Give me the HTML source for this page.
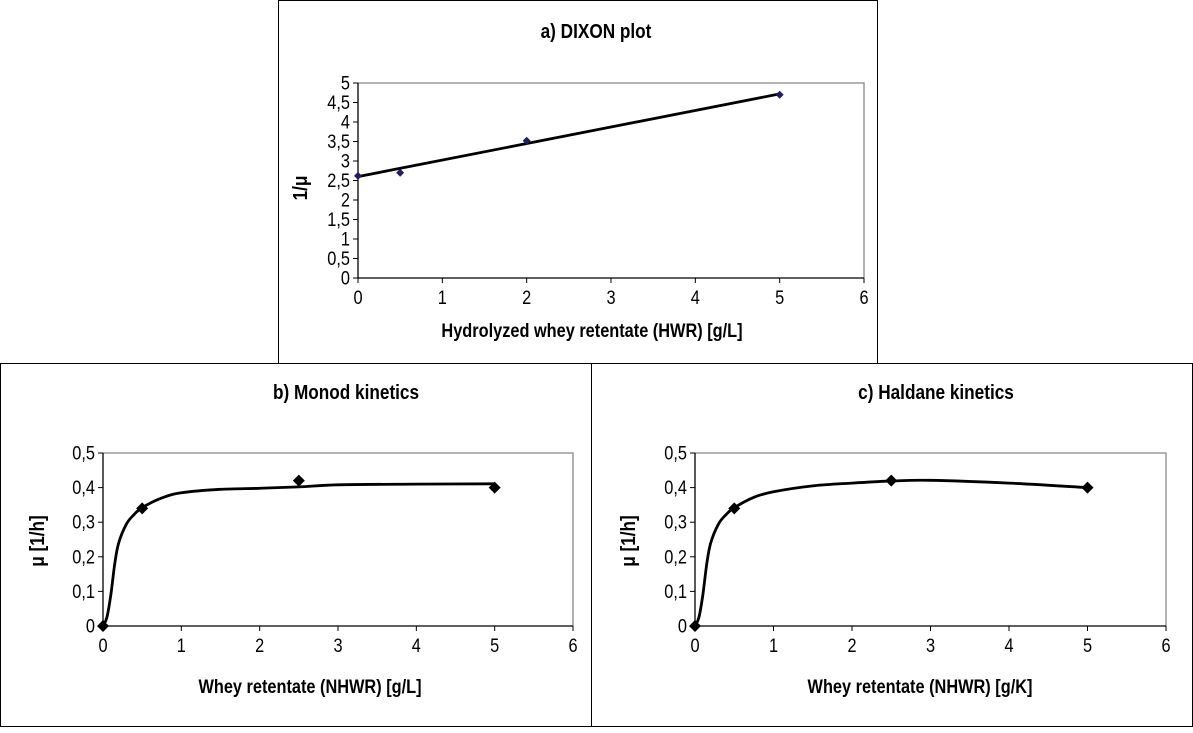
<!DOCTYPE html>
<html><head><meta charset="utf-8"><style>
body{margin:0;background:#fff;width:1193px;height:728px;overflow:hidden;font-family:"Liberation Sans",Arial,sans-serif}
svg text{font-family:"Liberation Sans",Arial,sans-serif}
</style></head><body>
<svg id="fig" width="1193" height="728" xmlns="http://www.w3.org/2000/svg">
<rect x="278.5" y="0.5" width="599" height="363" fill="#fff" stroke="#000"/>
<rect x="0.5" y="363.5" width="591" height="363" fill="#fff" stroke="#000"/>
<rect x="591.5" y="363.5" width="601" height="363" fill="#fff" stroke="#000"/>
</svg>
<script>
// Panel a data
const aX=[0,0.5,2,5];
const aY=[2.62,2.7,3.52,4.7];
const aFitX=[0,5];
const aFitY=[2.6,4.72];
const aYTicks=[0,0.5,1,1.5,2,2.5,3,3.5,4,4.5,5];
const aYLabels=["0","0,5","1","1,5","2","2,5","3","3,5","4","4,5","5"];
const xTicks=[0,1,2,3,4,5,6];
const xLabels=["0","1","2","3","4","5","6"];
// Panel b/c data
const bX=[0,0.5,2.5,5];
const bY=[0,0.34,0.42,0.4];
const bCurveX=[0,0.05,0.1,0.15,0.2,0.3,0.4,0.5,0.75,1,1.5,2,2.5,3,4,5];
const bCurveY=[0,0.025,0.09,0.18,0.24,0.295,0.323,0.342,0.37,0.385,0.395,0.398,0.402,0.408,0.41,0.411];
const cX=[0,0.5,2.5,5];
const cY=[0,0.34,0.42,0.4];
const cCurveX=[0,0.05,0.1,0.15,0.2,0.3,0.4,0.5,0.75,1,1.5,2,2.5,3,4,5];
const cCurveY=[0,0.025,0.09,0.18,0.24,0.295,0.323,0.342,0.372,0.388,0.405,0.413,0.419,0.421,0.413,0.4];
const muTicks=[0,0.1,0.2,0.3,0.4,0.5];
const muLabels=["0","0,1","0,2","0,3","0,4","0,5"];

const NS="http://www.w3.org/2000/svg";
const svg=document.getElementById('fig');
function mk(tag,attrs,parent){const e=document.createElementNS(NS,tag);for(const k in attrs)e.setAttribute(k,attrs[k]);(parent||svg).appendChild(e);return e;}
function txt(parent,x,y,s,size,anchor,bold,rot){
  const e=mk('text',{x:0,y:0,'font-size':size,'text-anchor':anchor,'font-weight':bold?'bold':'normal',
    transform:`translate(${x},${y})${rot?' rotate(-90)':''} scale(0.86,1)`},parent);
  e.textContent=s;return e;}
function smooth(pts){let d="M"+pts[0][0]+","+pts[0][1];for(let i=0;i<pts.length-1;i++){const p0=pts[Math.max(i-1,0)],p1=pts[i],p2=pts[i+1],p3=pts[Math.min(i+2,pts.length-1)];const c1=[p1[0]+(p2[0]-p0[0])/6,p1[1]+(p2[1]-p0[1])/6],c2=[p2[0]-(p3[0]-p1[0])/6,p2[1]-(p3[1]-p1[1])/6];d+=" C"+c1+" "+c2+" "+p2;}return d;}

function panel(o){
  const g=mk('g',{});
  
  
  const sx=v=>o.x0+(v-0)/6*(o.x1-o.x0);
  const sy=v=>o.y0-(v/o.ymax)*(o.y0-o.y1);
  const t=txt(g,o.tx,o.ty,o.title,20,'middle',true);
  
  const fr=mk('path',{d:`M${o.x0},${o.y1}H${o.x1}V${o.y0}`,stroke:'#888',fill:'none','stroke-width':1.3},g);
  
  const ax=mk('path',{d:`M${o.x0},${o.y1}V${o.y0}H${o.x1}`,stroke:'#000',fill:'none','stroke-width':1.3},g);
  
  o.yt.forEach((v,i)=>{const y=sy(v);mk('line',{x1:o.x0-5,x2:o.x0,y1:y,y2:y,stroke:'#000'},g);
    const l=txt(g,o.x0-8,y+6.5,o.yl[i],19,'end',false);
    });
  xTicks.forEach((v,i)=>{const x=sx(v);mk('line',{x1:x,x2:x,y1:o.y0,y2:o.y0+5,stroke:'#000'},g);
    const l=txt(g,x,o.y0+26,xLabels[i],19,'middle',false);
    });
  const xt=txt(g,o.xtx,o.xty,o.xtitle,19,'middle',true);
  
  const yt=txt(g,o.ytx,o.yty,o.ytitle,20,'middle',true,true);
  
  const pts=o.cx.map((v,i)=>[sx(v),sy(o.cy[i])]);
  const ln=mk('path',{d:o.straight?`M${pts[0]}L${pts[1]}`:smooth(pts),stroke:'#000',fill:'none','stroke-width':2.8},g);
  
  o.px.forEach((v,i)=>{const x=sx(v),y=sy(o.py[i]),r=o.mr;
    const m=mk('path',{d:`M${x},${y-r}L${x+r},${y}L${x},${y+r}L${x-r},${y}Z`,fill:o.mc},g);
    });
}
panel({name:'dixon-plot',title:'a) DIXON plot',tx:596,ty:38,x0:358,x1:864,y0:278,y1:83,ymax:5,yt:aYTicks,yl:aYLabels,
  xtitle:'Hydrolyzed whey retentate (HWR)  [g/L]',xtx:592,xty:337,ytitle:'1/μ',ytx:307,yty:188,
  cx:aFitX,cy:aFitY,straight:true,px:aX,py:aY,mr:4,mc:'#1f1f5e'});
panel({name:'monod-plot',title:'b) Monod  kinetics',tx:346,ty:399,x0:103,x1:573,y0:626,y1:453,ymax:0.5,yt:muTicks,yl:muLabels,
  xtitle:'Whey retentate (NHWR)  [g/L]',xtx:310,xty:693,ytitle:'μ [1/h]',ytx:44,yty:541,
  cx:bCurveX,cy:bCurveY,px:bX,py:bY,mr:6,mc:'#000'});
panel({name:'haldane-plot',title:'c) Haldane  kinetics',tx:936,ty:399,x0:695,x1:1166,y0:626,y1:453,ymax:0.5,yt:muTicks,yl:muLabels,
  xtitle:'Whey retentate (NHWR)  [g/K]',xtx:920,xty:693,ytitle:'μ [1/h]',ytx:635,yty:541,
  cx:cCurveX,cy:cCurveY,px:cX,py:cY,mr:6,mc:'#000'});
</script>
</body></html>
